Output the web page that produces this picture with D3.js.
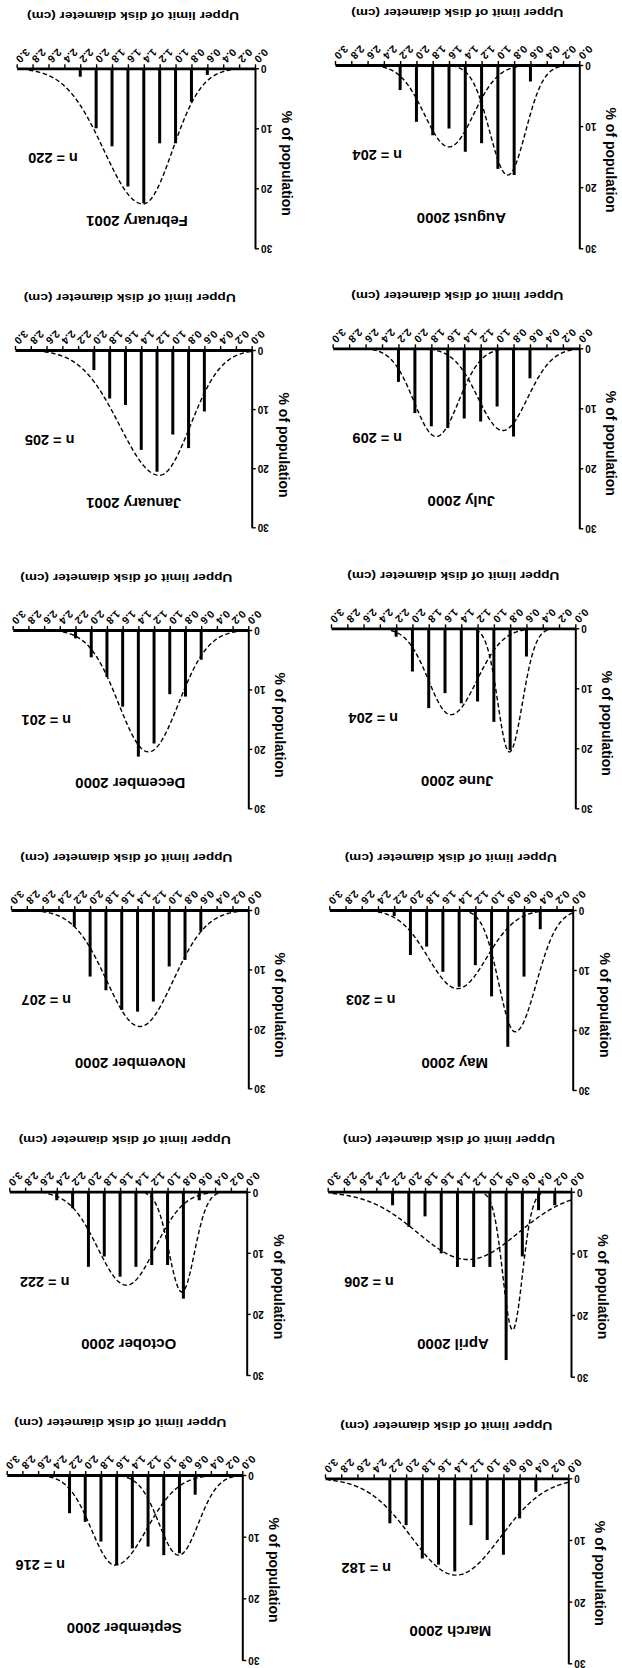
<!DOCTYPE html>
<html><head><meta charset="utf-8">
<script src="https://cdn.jsdelivr.net/npm/d3@7"></script>
<style>
body{margin:0;background:#fff}
svg text{font-family:"Liberation Sans",Arial,sans-serif;font-weight:bold;fill:#000}
</style>
</head><body><svg id="c" width="622" height="1668"></svg>
<script>
// ---------- data ----------
const months = ["March 2000","April 2000","May 2000","June 2000","July 2000","August 2000",
  "September 2000","October 2000","November 2000","December 2000","January 2001","February 2001"];
const sampleSizes = [182,206,203,204,209,204,216,222,207,201,205,220];
const binLimits = [0.2,0.4,0.6,0.8,1.0,1.2,1.4,1.6,1.8,2.0,2.2,2.4];
const tickValues = [0.0,0.2,0.4,0.6,0.8,1.0,1.2,1.4,1.6,1.8,2.0,2.2,2.4,2.6,2.8,3.0];
const tickLabels = ["0.0","0.2","0.4","0.6","0.8","1.0","1.2","1.4","1.6","1.8","2.0","2.2","2.4","2.6","2.8","3.0"];
const yTicks = [0,10,20,30];
const xTitle = "Upper limit of disk diameter (cm)";
const yTitle = "% of population";

// % of population per diameter class (upper limits as binLimits)
const pctMar2000 = [0, 2.2, 6.5, 12.4, 10.0, 7.6, 15.1, 14.0, 13.0, 7.6, 7.3, 0];
const pctApr2000 = [2.2, 3.0, 10.5, 27.3, 12.2, 12.2, 12.2, 10.0, 4.0, 5.7, 2.2, 0];
const pctMay2000 = [0, 3.2, 11.1, 22.8, 14.4, 9.2, 12.8, 10.3, 6.1, 7.5, 1.0, 0];
const pctJun2000 = [0, 0, 4.7, 20.3, 15.6, 12.2, 12.5, 10.8, 13.3, 7.2, 1.4, 0];
const pctJul2000 = [0, 0, 5.0, 14.7, 9.7, 12.2, 11.7, 13.3, 13.0, 10.8, 5.6, 0];
const pctAug2000 = [0, 0, 2.7, 18.0, 17.0, 12.8, 14.2, 10.4, 11.5, 9.3, 4.1, 0];
const pctSep2000 = [0, 0, 3.2, 12.7, 13.0, 11.6, 11.9, 14.6, 10.8, 7.6, 6.2, 0];
const pctOct2000 = [0, 0, 1.4, 17.5, 12.0, 12.0, 12.3, 13.9, 10.6, 12.3, 2.7, 1.4];
const pctNov2000 = [0, 0, 3.6, 8.4, 9.5, 15.4, 17.1, 16.8, 13.5, 11.2, 2.8, 0];
const pctDec2000 = [0, 0, 5.0, 11.2, 10.8, 19.1, 21.3, 12.9, 7.9, 4.6, 1.4, 0];
const pctJan2001 = [0, 0, 10.4, 16.6, 14.3, 20.6, 16.9, 9.3, 8.2, 3.4, 0, 0];
const pctFeb2001 = [0, 0, 1.1, 5.6, 12.5, 12.5, 22.5, 19.7, 13.0, 10.0, 1.4, 0];

// fitted cohort curves: [mean (cm), sd below mean, sd above mean, peak (%)]
const fitMar2000 = [[1.385, 0.55, 0.55, 15.7]];
const fitApr2000 = [[0.72, 0.12, 0.12, 22.4], [1.27, 0.62, 0.62, 11.0]];
const fitMay2000 = [[0.71, 0.26, 0.20, 20.3], [1.42, 0.36, 0.36, 13.1]];
const fitJun2000 = [[0.81, 0.16, 0.14, 20.6], [1.53, 0.32, 0.27, 14.4]];
const fitJul2000 = [[0.93, 0.30, 0.30, 13.7], [1.74, 0.27, 0.27, 14.7]];
const fitAug2000 = [[0.88, 0.22, 0.22, 18.0], [1.60, 0.30, 0.30, 13.4]];
const fitSep2000 = [[0.81, 0.25, 0.25, 13.0], [1.62, 0.40, 0.30, 14.6]];
const fitOct2000 = [[0.82, 0.16, 0.16, 16.4], [1.52, 0.36, 0.36, 15.3]];
const fitNov2000 = [[1.37, 0.42, 0.42, 19.6]];
const fitDec2000 = [[1.27, 0.38, 0.38, 20.5]];
const fitJan2001 = [[1.17, 0.39, 0.50, 21.2]];
const fitFeb2001 = [[1.41, 0.37, 0.49, 22.6]];

const pcts = [pctMar2000,pctApr2000,pctMay2000,pctJun2000,pctJul2000,pctAug2000,
  pctSep2000,pctOct2000,pctNov2000,pctDec2000,pctJan2001,pctFeb2001];
const fits = [fitMar2000,fitApr2000,fitMay2000,fitJun2000,fitJul2000,fitAug2000,
  fitSep2000,fitOct2000,fitNov2000,fitDec2000,fitJan2001,fitFeb2001];

// ---------- layout (page is printed upside down) ----------
// per panel: [x of 0.0 cm, x of 3.0 cm, y of 0 %, y of 30 %]
const frames = [
  [568.3, 325.0, 1478.3, 1663.3],
  [571.0, 327.7, 1191.7, 1376.7],
  [572.7, 329.3,  910.0, 1090.0],
  [575.3, 331.0,  628.3,  808.3],
  [579.3, 332.7,  348.3,  528.3],
  [579.3, 335.0,   65.0,  248.3],
  [242.3,   6.7, 1475.0, 1660.0],
  [246.7,   9.3, 1191.7, 1375.0],
  [248.3,  11.0,  910.0, 1088.3],
  [248.3,  12.7,  630.0,  808.3],
  [251.7,  15.0,  350.0,  527.3],
  [255.0,  16.7,   68.3,  248.3]
];

const svg = d3.select("#c");
svg.append("rect").attr("width",622).attr("height",1668).attr("fill","#fff");

months.forEach((m, i) => {
  const [x0, x3, y0, y30] = frames[i];
  const x = d3.scaleLinear().domain([0, 3]).range([x0, x3]);
  const y = d3.scaleLinear().domain([0, 30]).range([y0, y30]);
  const g = svg.append("g");

  // bars
  const bars = binLimits.map((b, j) => ({b, v: pcts[i][j]})).filter(d => d.v > 0);
  g.selectAll("rect.bar").data(bars).join("rect").attr("class","bar")
    .attr("x", d => x(d.b) - 1.5).attr("width", 3)
    .attr("y", y(0)).attr("height", d => y(d.v) - y(0))
    .attr("fill", "#000");

  // fitted curves
  const line = d3.line().x(p => x(p[0])).y(p => y(p[1])).curve(d3.curveLinear);
  fits[i].forEach(([mu, sl, sr, pk]) => {
    const pts = d3.range(0, 3.0001, 0.01)
      .map(t => [t, pk * Math.exp(-((t - mu) ** 2) / (2 * (t < mu ? sl : sr) ** 2))])
      .filter(p => p[1] > 0.25);
    g.append("path").attr("d", line(pts)).attr("fill","none")
      .attr("stroke","#000").attr("stroke-width",1.4).attr("stroke-dasharray","4.5,2.6");
  });

  // x axis
  const xa = g.append("g").attr("transform", `translate(0,${y0})`)
    .call(d3.axisTop(x).tickValues(tickValues).tickSize(4).tickSizeOuter(0)
      .tickFormat((d, k) => tickLabels[k]));
  xa.select(".domain").attr("stroke","#000").attr("stroke-width",2.8);
  xa.selectAll(".tick line").attr("stroke","#000").attr("stroke-width",1.4);
  xa.selectAll(".tick text").attr("x",0).attr("y",0).attr("dy",null)
    .attr("text-anchor","end").attr("font-size",10.5)
    .attr("transform","translate(-2,-10) rotate(135)");

  // y axis
  const ya = g.append("g").attr("transform", `translate(${x0},0)`)
    .call(d3.axisRight(y).tickValues(yTicks).tickSize(4).tickSizeOuter(0));
  ya.select(".domain").attr("stroke","#000").attr("stroke-width",2);
  ya.selectAll(".tick line").attr("stroke","#000").attr("stroke-width",1.4);
  ya.selectAll(".tick text").attr("x",0).attr("y",0).attr("dy",null)
    .attr("text-anchor","end").attr("dominant-baseline","central").attr("font-size",10)
    .attr("transform","translate(6,0) rotate(180)");

  // texts (upside down)
  const txt = (tx, ty, rot, s, fs) => g.append("text")
    .attr("transform", `translate(${tx},${ty}) rotate(${rot})`)
    .attr("text-anchor","middle").attr("dominant-baseline","central")
    .attr("font-size", fs).text(s);
  txt(x0 - 118, y0 + 153, 180, m, 15);
  txt(x0 - 202, y0 + 90, 180, "n = " + sampleSizes[i], 14.5);
  txt(x0 - 122, y0 - 52, 180, xTitle, 11).attr("textLength", 212).attr("lengthAdjust","spacingAndGlyphs");
  txt(x0 + 32, y0 + 95, 90, yTitle, 14);
});
</script>
</body></html>
